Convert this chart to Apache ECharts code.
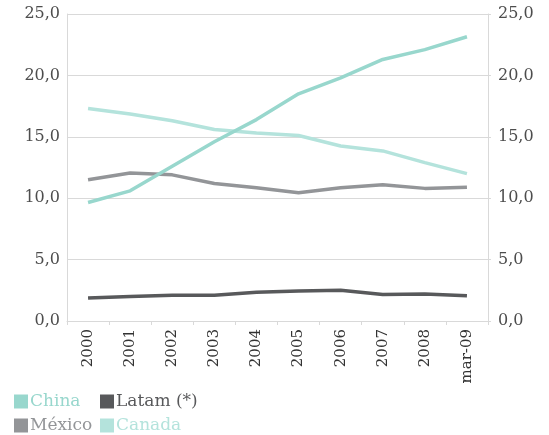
<!DOCTYPE html>
<html>
<head>
<meta charset="utf-8">
<script src="https://cdn.jsdelivr.net/npm/echarts@6/dist/echarts.min.js"></script>
<style>
  html, body { margin: 0; padding: 0; background: #fff; }
  #chart { width: 549px; height: 435px; }
</style>
</head>
<body>
<div id="chart"></div>
<script>
// periods on the x axis
const periods = ['2000', '2001', '2002', '2003', '2004', '2005', '2006', '2007', '2008', 'mar-09']
// share values
const china = [9.65, 10.6, 12.6, 14.6, 16.4, 18.5, 19.8, 21.3, 22.1, 23.15]
const latam = [1.87, 2.0, 2.1, 2.1, 2.35, 2.45, 2.5, 2.15, 2.2, 2.05]
const mexico = [11.5, 12.05, 11.9, 11.2, 10.85, 10.45, 10.85, 11.1, 10.8, 10.9]
const canada = [17.3, 16.85, 16.3, 15.6, 15.3, 15.1, 14.25, 13.85, 12.9, 12.0]

const colors = {
  'China': '#98d7cd',
  'Latam (*)': '#58595b',
  'México': '#939598',
  'Canada': '#b4e3dc'
}
const font = '"DejaVu Serif", serif'

const chart = echarts.init(document.getElementById('chart'))

function yAxis(pos, showSplit) {
  return {
    type: 'value',
    position: pos,
    min: 0,
    max: 25,
    interval: 5,
    axisLine: { show: true, lineStyle: { color: '#d9d9d9' } },
    axisTick: { show: pos === 'right', length: 3, lineStyle: { color: '#d9d9d9' } },
    splitLine: { show: showSplit, lineStyle: { color: '#d9d9d9', width: 1 } },
    axisLabel: {
      color: '#4d4d4d',
      fontFamily: font,
      fontSize: 16,
      margin: pos === 'left' ? 7 : 10,
      formatter: v => v.toFixed(1).replace('.', ',')
    }
  }
}

function legend(name, left, top) {
  return {
    data: [{ name: name, textStyle: { color: colors[name] } }],
    left: left,
    top: top,
    icon: 'rect',
    itemWidth: 14,
    itemHeight: 14,
    itemGap: 0,
    padding: 0,
    textStyle: { fontFamily: font, fontSize: 17, padding: [0, 0, 0, -3] }
  }
}

function line(name, data, z) {
  return {
    name: name,
    type: 'line',
    data: data,
    z: z,
    symbol: 'none',
    lineStyle: { width: 3.5, color: colors[name] },
    itemStyle: { color: colors[name] }
  }
}

chart.setOption({
  animation: false,
  grid: { left: 67, right: 61, top: 14, bottom: 114 },
  legend: [
    legend('China', 14, 393),
    legend('Latam (*)', 100, 393),
    legend('México', 14, 417),
    legend('Canada', 100, 417)
  ],
  xAxis: {
    type: 'category',
    data: periods,
    boundaryGap: true,
    axisLine: { lineStyle: { color: '#d9d9d9' } },
    axisTick: { show: true, length: 4, lineStyle: { color: '#d9d9d9' } },
    axisLabel: {
      rotate: 90,
      color: '#333333',
      fontFamily: font,
      fontSize: 15,
      margin: 8
    }
  },
  yAxis: [yAxis('left', true), yAxis('right', false)],
  series: [
    line('Latam (*)', latam, 2),
    line('México', mexico, 3),
    line('Canada', canada, 4),
    line('China', china, 5)
  ]
})
</script>
</body>
</html>
